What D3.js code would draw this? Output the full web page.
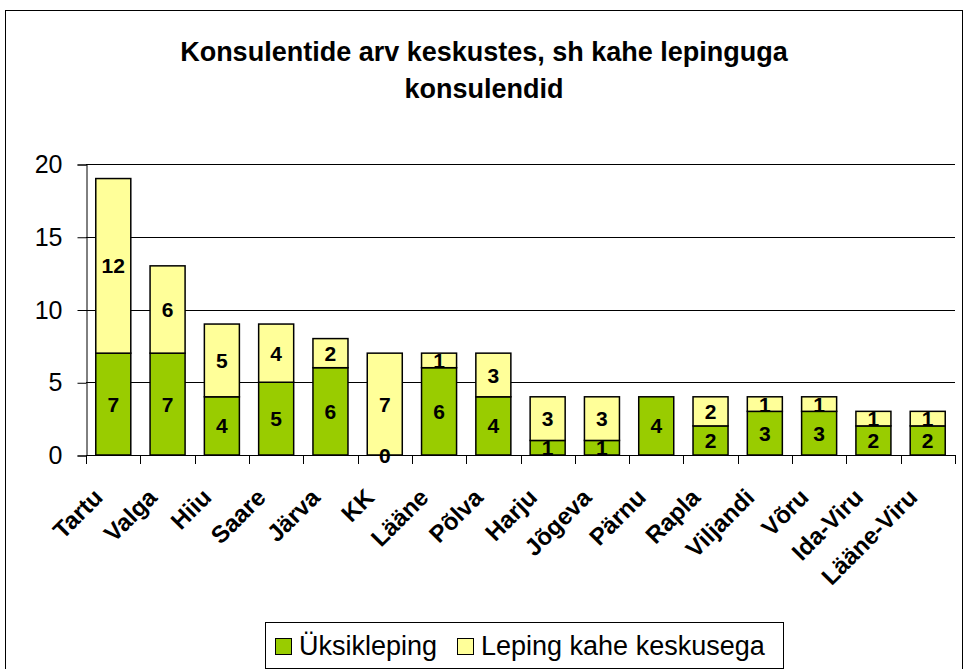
<!DOCTYPE html>
<html><head><meta charset="utf-8">
<script src="https://cdn.jsdelivr.net/npm/d3@7"></script>
<style>body{margin:0;background:#fff}svg{display:block}</style>
</head><body>
<script>
const categories = ["Tartu","Valga","Hiiu","Saare","Järva","KK","Lääne","Põlva","Harju","Jõgeva","Pärnu","Rapla","Viljandi","Võru","Ida-Viru","Lääne-Viru"];
const uksikleping = [7,7,4,5,6,0,6,4,1,1,4,2,3,3,2,2];
const kaheKeskusega = [12,6,5,4,2,7,1,3,3,3,null,2,1,1,1,1];
const yTicks = [0,5,10,15,20];
const seriesNames = ["Üksikleping","Leping kahe keskusega"];
const colors = ["#99CC00","#FFFF99"];
const title = ["Konsulentide arv keskustes, sh kahe lepinguga","konsulendid"];

const W=964,H=669;
const svg=d3.select("body").append("svg").attr("width",W).attr("height",H);
svg.append("rect").attr("x",5.5).attr("y",10.5).attr("width",957).attr("height",700).attr("fill","#fff").attr("stroke","#000");

const x=d3.scaleBand().domain(categories).range([86,955]).paddingInner(0.355).paddingOuter(0.18);
const xb=d3.scaleBand().domain(categories).range([86,955]);
const y=d3.scaleLinear().domain([0,20]).range([455,164]);

const F="Arial, 'Liberation Sans', sans-serif";
svg.selectAll("text.title").data(title).join("text").attr("x",484).attr("y",(d,i)=>61+i*37)
 .attr("text-anchor","middle").attr("font-family",F).attr("font-weight","bold").attr("font-size",27).text(d=>d);

// gridlines
svg.append("g").selectAll("line").data(yTicks.filter(d=>d>0)).join("line")
 .attr("x1",86).attr("x2",955).attr("y1",d=>Math.round(y(d))+0.5).attr("y2",d=>Math.round(y(d))+0.5).attr("stroke","#000");

// y axis
const ya=svg.append("g").attr("transform","translate(86.5,0.5)").call(d3.axisLeft(y).tickValues(yTicks).tickSize(9).tickPadding(15));
ya.selectAll("text").attr("font-family",F).attr("font-size",25).attr("fill","#000");
ya.selectAll("line,path").attr("stroke","#000");

// bars
const stacked=categories.map((c,i)=>({c,v:[uksikleping[i],kaheKeskusega[i]]}));
const g=svg.append("g");
stacked.forEach(d=>{
  let base=0;
  d.v.forEach((v,k)=>{
    const val=v||0;
    g.append("rect").attr("x",x(d.c)).attr("width",x.bandwidth())
     .attr("y",y(base+val)).attr("height",y(base)-y(base+val))
     .attr("fill",colors[k]).attr("stroke","#000").attr("stroke-width",1.5);
    base+=val;
  });
});
stacked.forEach(d=>{
  let base=0;
  d.v.forEach((v,k)=>{
    if(v!==null){
      g.append("text").attr("x",x(d.c)+x.bandwidth()/2).attr("y",(y(base)+y(base+v))/2)
       .attr("dy","0.36em").attr("text-anchor","middle").attr("font-family",F).attr("font-weight","bold").attr("font-size",21).text(v);
    }
    base+=(v||0);
  });
});

// x axis
svg.append("line").attr("x1",86).attr("x2",955).attr("y1",455.5).attr("y2",455.5).attr("stroke","#000");
svg.append("g").selectAll("line").data(d3.range(17)).join("line")
 .attr("x1",i=>Math.round(86+i*xb.step())+0.5).attr("x2",i=>Math.round(86+i*xb.step())+0.5)
 .attr("y1",455).attr("y2",464).attr("stroke","#000");
svg.append("g").selectAll("text").data(categories).join("text")
 .attr("transform",d=>`translate(${xb(d)+xb.bandwidth()/2-9},499) rotate(-45)`)
 .attr("text-anchor","end").attr("font-family",F).attr("font-weight","bold").attr("font-size",24).text(d=>d);

// legend
const lg=svg.append("g");
lg.append("rect").attr("x",265.5).attr("y",622.5).attr("width",518).attr("height",46).attr("fill","#fff").attr("stroke","#000");
const lx=[275,457];
seriesNames.forEach((s,i)=>{
  lg.append("rect").attr("x",lx[i]+0.5).attr("y",638.5).attr("width",16).attr("height",16).attr("fill",colors[i]).attr("stroke","#000");
  lg.append("text").attr("x",lx[i]+24).attr("y",655).attr("font-family",F).attr("font-size",27).text(s);
});
</script>
</body></html>
